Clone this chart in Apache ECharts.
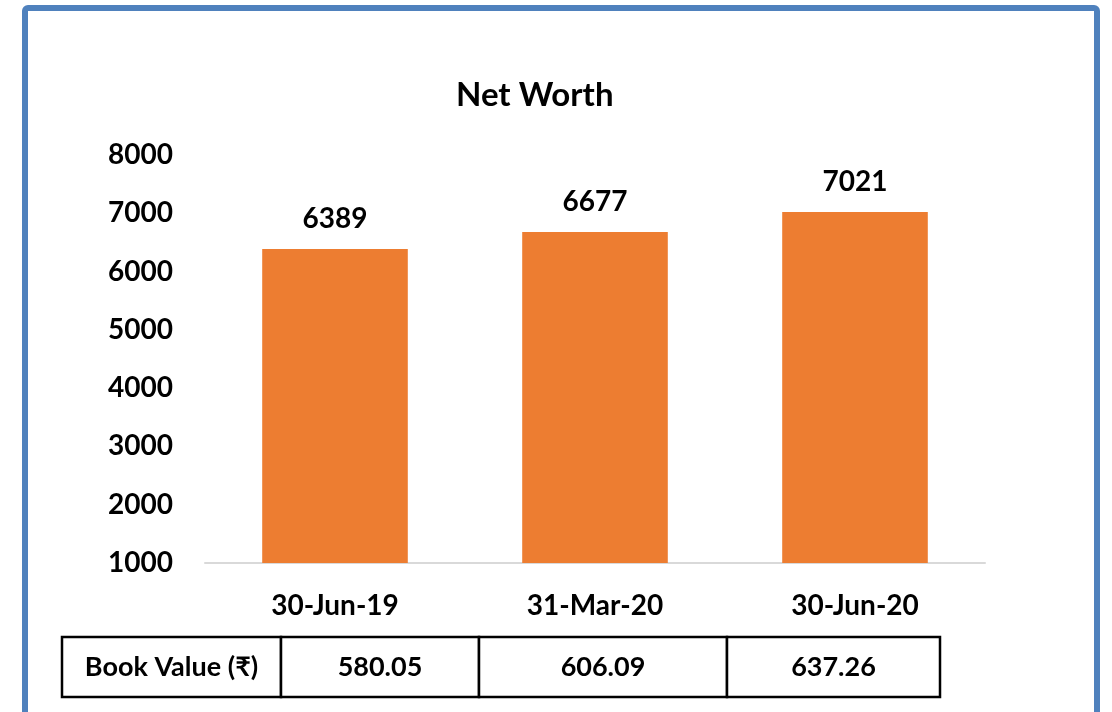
<!DOCTYPE html>
<html>
<head>
<meta charset="utf-8">
<script src="https://cdn.jsdelivr.net/npm/echarts@6/dist/echarts.min.js"></script>
<style>
  html, body { margin: 0; padding: 0; background: #fff; }
  #chart { width: 1112px; height: 712px; }
</style>
</head>
<body>
<div id="chart"></div>
<script>
const categories = ['30-Jun-19', '31-Mar-20', '30-Jun-20'];
const netWorth = [6389, 6677, 7021];
const tableHeader = 'Book Value (₹)';
const bookValues = ['580.05', '606.09', '637.26'];
const yTicks = [1000, 2000, 3000, 4000, 5000, 6000, 7000, 8000];

const font = 'Lato, "DejaVu Sans", sans-serif';
const myChart = echarts.init(document.getElementById('chart'));

// table cells (column edges in px)
const colX = [62, 281, 479, 727, 940];
const rowTop = 637, rowBottom = 697;
let tableEls = [];
for (let i = 0; i < 4; i++) {
  tableEls.push({
    type: 'rect',
    shape: { x: colX[i], y: rowTop, width: colX[i + 1] - colX[i], height: rowBottom - rowTop },
    style: { fill: '#fff', stroke: '#000', lineWidth: 2.5 }
  });
  tableEls.push({
    type: 'text',
    x: (colX[i] + colX[i + 1]) / 2,
    y: (rowTop + rowBottom) / 2,
    style: {
      text: i === 0 ? tableHeader : bookValues[i - 1],
      font: 'bold 27px ' + font,
      fill: '#000',
      align: 'center',
      verticalAlign: 'middle'
    }
  });
}

let option = {
  animation: false,
  title: {
    text: 'Net Worth',
    left: 451,
    top: 74,
    textStyle: { fontFamily: font, fontSize: 33, fontWeight: 'bold', color: '#000' }
  },
  grid: { left: 205, right: 127, top: 155, bottom: 149 },
  xAxis: {
    type: 'category',
    data: categories,
    axisLine: { lineStyle: { color: '#D9D9D9', width: 2 } },
    axisTick: { show: false },
    axisLabel: { fontFamily: font, fontSize: 28, fontWeight: 'bold', color: '#000', margin: 29 }
  },
  yAxis: {
    type: 'value',
    min: yTicks[0],
    max: yTicks[yTicks.length - 1],
    interval: 1000,
    axisLine: { show: false },
    axisTick: { show: false },
    splitLine: { show: false },
    axisLabel: {
      fontFamily: font, fontSize: 28, fontWeight: 'bold', color: '#000', margin: 32,
      formatter: v => String(v)
    }
  },
  series: [
    {
      type: 'bar',
      data: netWorth,
      barWidth: '56%',
      itemStyle: { color: '#ED7D31' },
      label: {
        show: true,
        position: 'top',
        distance: 16,
        fontFamily: font,
        fontSize: 28,
        fontWeight: 'bold',
        color: '#000'
      }
    }
  ],
  graphic: [
    {
      type: 'rect',
      shape: { x: 25, y: 8, width: 1072, height: 800, r: 3 },
      style: { fill: 'none', stroke: '#4F81BD', lineWidth: 6 }
    }
  ].concat(tableEls)
};

option && myChart.setOption(option);
</script>
</body>
</html>
